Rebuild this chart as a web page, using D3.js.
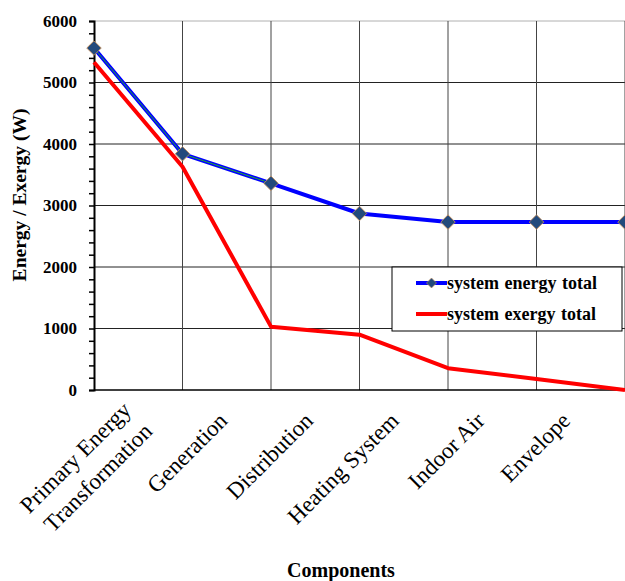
<!DOCTYPE html>
<html>
<head>
<meta charset="utf-8">
<script src="https://cdn.jsdelivr.net/npm/d3@7"></script>
<style>
  body { margin: 0; background: #fff; }
  text { font-family: "Liberation Serif", "Times New Roman", serif; }
</style>
</head>
<body>
<div id="chart"></div>
<script>
const categories = [
  "Primary Energy\nTransformation",
  "Generation",
  "Distribution",
  "Heating System",
  "Indoor Air",
  "Envelope",
  ""
];
const energyTotal = [5560, 3840, 3360, 2870, 2730, 2730, 2730];
const exergyTotal = [5330, 3630, 1030, 900, 355, 180, 0];
const yTicks = [0, 1000, 2000, 3000, 4000, 5000, 6000];

const width = 625;
const height = 581;
const margin = { top: 21, right: 0, bottom: 191, left: 94 };

const svg = d3
  .select("#chart")
  .append("svg")
  .attr("width", width)
  .attr("height", height);

const x = d3
  .scalePoint()
  .domain(categories)
  .range([margin.left, width - margin.right]);

const y = d3
  .scaleLinear()
  .domain([0, 6000])
  .range([height - margin.bottom, margin.top]);

// grid
svg
  .append("g")
  .selectAll("line")
  .data(yTicks.slice(1))
  .join("line")
  .attr("x1", margin.left)
  .attr("x2", width)
  .attr("y1", (d) => y(d))
  .attr("y2", (d) => y(d))
  .attr("stroke", (d) => (d === 6000 ? "#b0b0b0" : "#222"))
  .attr("stroke-width", 1);

svg
  .append("g")
  .selectAll("line")
  .data(categories.slice(1))
  .join("line")
  .attr("x1", (d) => x(d))
  .attr("x2", (d) => x(d))
  .attr("y1", y(6000))
  .attr("y2", y(0))
  .attr("stroke", "#444")
  .attr("stroke-width", 1);

// y axis with minor ticks every 200
const yAxis = svg
  .append("g")
  .attr("transform", `translate(${margin.left},0)`)
  .call(
    d3.axisLeft(y)
      .tickValues(d3.range(0, 6001, 200))
      .tickSize(5)
      .tickFormat((d) => (d % 1000 === 0 ? d : ""))
  );
yAxis.select(".domain").attr("stroke", "#000").attr("stroke-width", 2);
yAxis.selectAll(".tick line").attr("stroke", "#000").attr("stroke-width", 1.5);
yAxis
  .selectAll(".tick text")
  .attr("x", -17)
  .style("font-family", "'Liberation Serif', serif")
  .style("font-size", "17px")
  .style("font-weight", "bold")
  .attr("fill", "#000");

// x axis baseline
svg
  .append("line")
  .attr("x1", margin.left)
  .attr("x2", width)
  .attr("y1", y(0))
  .attr("y2", y(0))
  .attr("stroke", "#000")
  .attr("stroke-width", 1.5);

// category labels (rotated)
const labelCats = categories.filter((c) => c !== "");
const lx = d3
  .scalePoint()
  .domain(labelCats)
  .range([x(labelCats[0]) + 49, x(labelCats[labelCats.length - 1]) + 35]);

const labels = svg
  .append("g")
  .selectAll("text")
  .data(labelCats)
  .join("text")
  .attr("transform", (d) => `translate(${lx(d)},${y(0) + 32}) rotate(-45)`)
  .attr("text-anchor", "end")
  .style("font-size", "23px")
  .attr("fill", "#000");

labels.each(function (d) {
  const lines = d.split("\n");
  const t = d3.select(this);
  lines.forEach((line, i) => {
    t.append("tspan")
      .attr("x", 0)
      .attr("y", (i - (lines.length - 1) / 2) * 30)
      .text(line);
  });
});

// series lines
const line = d3
  .line()
  .x((d, i) => x(categories[i]))
  .y((d) => y(d));

svg
  .append("path")
  .datum(exergyTotal)
  .attr("fill", "none")
  .attr("stroke", "#ff0000")
  .attr("stroke-width", 4)
  .attr("stroke-linejoin", "round")
  .attr("d", line);

svg
  .append("path")
  .datum(energyTotal)
  .attr("fill", "none")
  .attr("stroke", "#0000ff")
  .attr("stroke-width", 4)
  .attr("stroke-linejoin", "round")
  .attr("d", line);

svg
  .append("path")
  .datum(energyTotal.slice(0, 3))
  .attr("fill", "none")
  .attr("stroke", "#22aa33")
  .attr("stroke-width", 1)
  .attr("d", line);

const diamond = d3.symbol(d3.symbolSquare, 105);

svg
  .append("g")
  .selectAll("path")
  .data(energyTotal)
  .join("path")
  .attr("d", diamond)
  .attr("transform", (d, i) => `translate(${x(categories[i])},${y(d)}) rotate(45)`)
  .attr("fill", "#234a7c")
  .attr("stroke", "#c8905a")
  .attr("stroke-width", 0.8);

// legend
const legend = svg.append("g").attr("transform", "translate(392,267)");
legend
  .append("rect")
  .attr("width", 230)
  .attr("height", 64)
  .attr("fill", "#fff")
  .attr("stroke", "#000")
  .attr("stroke-width", 1);

const legendItems = [
  { name: "system energy total", color: "#0000ff", marker: true },
  { name: "system exergy total", color: "#ff0000", marker: false }
];

legendItems.forEach((item, i) => {
  const row = legend.append("g").attr("transform", `translate(0,${16 + i * 31})`);
  row
    .append("line")
    .attr("x1", 24)
    .attr("x2", 55)
    .attr("stroke", item.color)
    .attr("stroke-width", 4);
  if (item.marker) {
    row
      .append("path")
      .attr("d", d3.symbol(d3.symbolSquare, 50))
      .attr("transform", "translate(39.5,0) rotate(45)")
      .attr("fill", "#234a7c")
      .attr("stroke", "#c8905a")
      .attr("stroke-width", 0.6);
  }
  row
    .append("text")
    .attr("x", 55)
    .attr("y", 6)
    .style("font-size", "18px")
    .style("font-weight", "bold")
    .style("word-spacing", "1px")
    .text(item.name);
});

// axis titles
svg
  .append("text")
  .attr("transform", "translate(26,195) rotate(-90)")
  .attr("text-anchor", "middle")
  .style("font-size", "19.5px")
  .style("font-weight", "bold")
  .text("Energy / Exergy (W)");

svg
  .append("text")
  .attr("x", 341)
  .attr("y", 577)
  .attr("text-anchor", "middle")
  .style("font-size", "20px")
  .style("font-weight", "bold")
  .text("Components");
</script>
</body>
</html>
